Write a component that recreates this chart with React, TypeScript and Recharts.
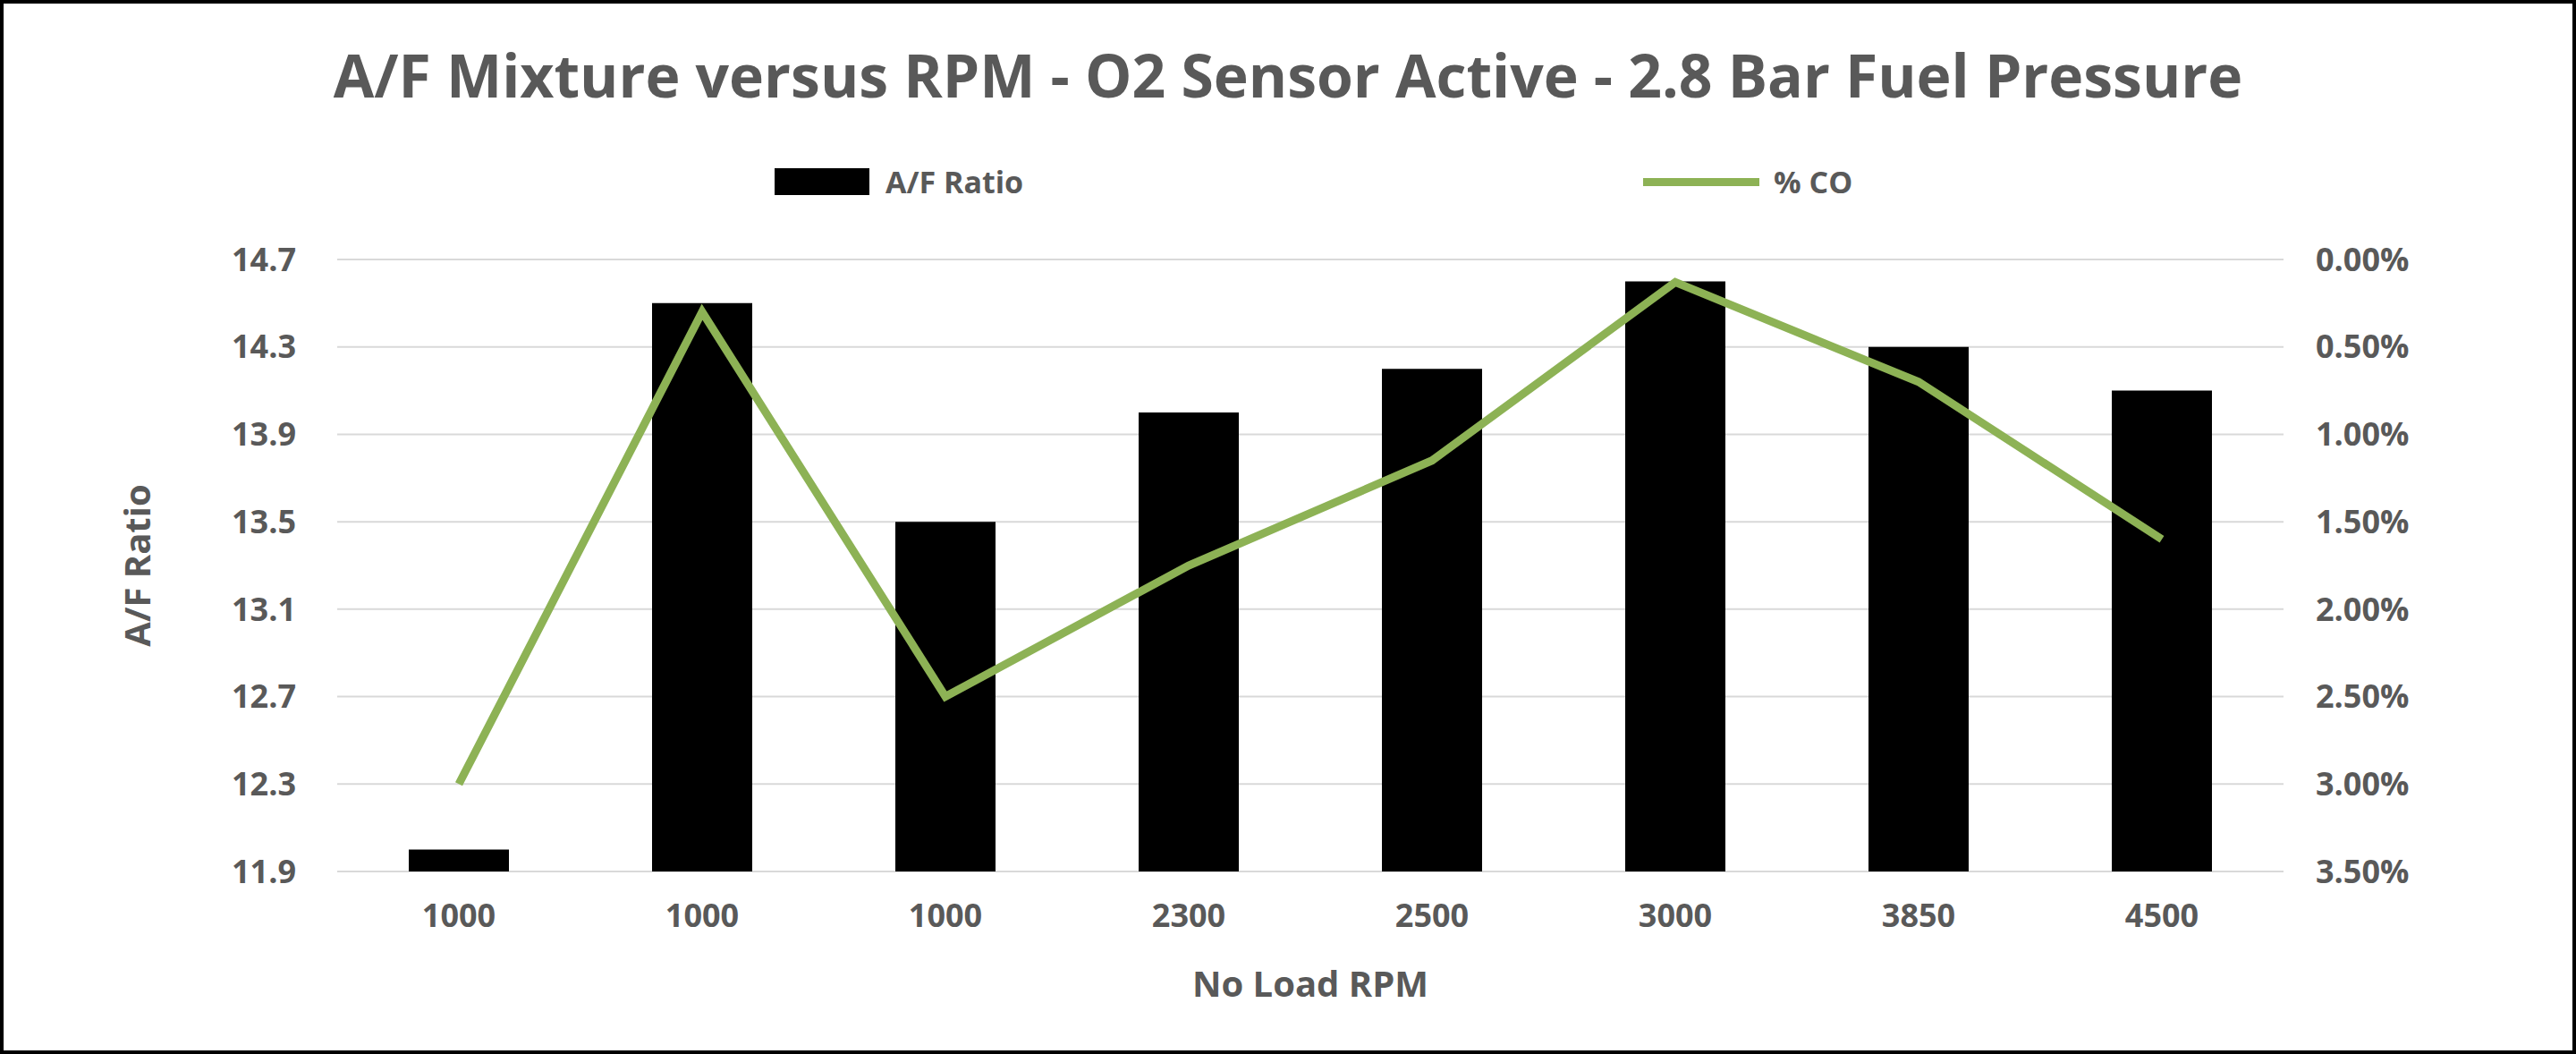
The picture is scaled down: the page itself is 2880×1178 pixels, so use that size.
import React from "react";
import { ComposedChart, Bar, Line, XAxis, YAxis, CartesianGrid } from "recharts";

const rpmLabels = ["1000", "1000", "1000", "2300", "2500", "3000", "3850", "4500"];
const afRatio = [12.0, 14.5, 13.5, 14.0, 14.2, 14.6, 14.3, 14.1];
const coPct = [0.03, 0.003, 0.025, 0.0175, 0.0115, 0.0013, 0.007, 0.016];
const leftTicks = [11.9, 12.3, 12.7, 13.1, 13.5, 13.9, 14.3, 14.7];
const rightTicks = [0, 0.005, 0.01, 0.015, 0.02, 0.025, 0.03, 0.035];

const data = rpmLabels.map((r, i) => ({ idx: i, rpm: r, af: afRatio[i], co: coPct[i] }));

const FONT = "'Open Sans', 'Liberation Sans', sans-serif";
const GRAY = "#595959";
const GREEN = "#8db255";
const tickStyle = { fill: GRAY, fontSize: 36, fontWeight: 700, fontFamily: FONT };

export default function App() {
  return (
    <div style={{ position: "fixed", top: 0, left: 0, width: 2880, height: 1178, background: "#fff", boxSizing: "border-box", border: "4px solid #000", fontFamily: FONT }}>
      <div style={{ position: "absolute", top: 34, width: "100%", textAlign: "center", fontSize: 66, fontWeight: 700, color: GRAY }}>
        A/F Mixture versus RPM - O2 Sensor Active - 2.8 Bar Fuel Pressure
      </div>
      <div style={{ position: "absolute", top: 176, left: 862, display: "flex", alignItems: "center", fontSize: 34, fontWeight: 700, color: GRAY }}>
        <div style={{ width: 106, height: 30, background: "#000", marginRight: 18 }} />A/F Ratio
      </div>
      <div style={{ position: "absolute", top: 176, left: 1833, display: "flex", alignItems: "center", fontSize: 34, fontWeight: 700, color: GRAY }}>
        <div style={{ width: 130, height: 9, background: GREEN, marginRight: 16 }} />% CO
      </div>
      <div style={{ position: "absolute", top: 0, left: 0 }}>
        <ComposedChart width={2872} height={1170} data={data} margin={{ top: 286, bottom: 50, left: 0, right: 0 }}>
          <CartesianGrid vertical={false} stroke="#d9d9d9" strokeWidth={2} yAxisId="left" />
          <XAxis dataKey="idx" type="category" tickFormatter={(v: number) => rpmLabels[v]} axisLine={false} tickLine={false} tick={tickStyle} tickMargin={30}
            label={{ value: "No Load RPM", position: "insideBottom", offset: 10, style: { ...tickStyle, fontSize: 40 } }} height={150} />
          <YAxis yAxisId="left" width={373} domain={[11.9, 14.7]} ticks={leftTicks} allowDataOverflow axisLine={false} tickLine={false} tick={tickStyle} tickMargin={40}
            tickFormatter={(v: number) => v.toFixed(1)}
            label={{ value: "A/F Ratio", angle: -90, position: "insideLeft", offset: 150, style: { ...tickStyle, fontSize: 40, textAnchor: "middle" } }} />
          <YAxis yAxisId="right" orientation="right" width={323} domain={[0, 0.035]} ticks={rightTicks} reversed axisLine={false} tickLine={false} tick={tickStyle} tickMargin={30}
            tickFormatter={(v: number) => (v * 100).toFixed(2) + "%"} />
          <Bar yAxisId="left" dataKey="af" fill="#000" barSize={112} isAnimationActive={false} />
          <Line yAxisId="right" dataKey="co" stroke={GREEN} strokeWidth={9} dot={false} isAnimationActive={false} />
        </ComposedChart>
      </div>
    </div>
  );
}
